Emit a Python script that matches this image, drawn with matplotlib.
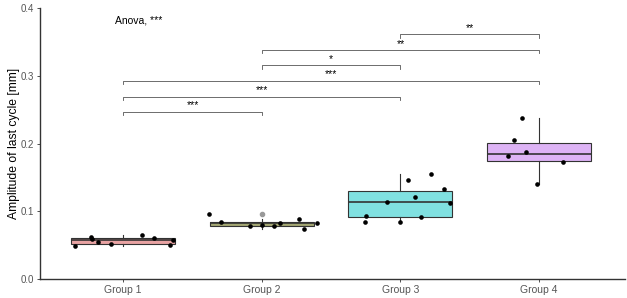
import matplotlib
matplotlib.use("Agg")
import matplotlib.pyplot as plt
import numpy as np

plt.rcParams['font.family'] = ['Liberation Sans', 'DejaVu Sans']

groups = ["Group 1", "Group 2", "Group 3", "Group 4"]
fill_colors = ["#E8A3A3", "#A3A672", "#80E0E0", "#DDB3F5"]

values = [
    [0.0487, 0.0615, 0.0586, 0.0546, 0.0521, 0.0650, 0.0605, 0.0497, 0.0571],
    [0.0955, 0.0846, 0.0778, 0.0802, 0.0782, 0.0827, 0.0886, 0.0743, 0.0827],
    [0.0925, 0.0846, 0.1137, 0.0841, 0.1461, 0.1206, 0.0915, 0.1555, 0.1324, 0.1126],
    [0.2380, 0.2047, 0.1820, 0.1870, 0.1723, 0.1407],
]
jitter = [
    [-0.344, -0.229, -0.227, -0.179, -0.088, 0.136, 0.224, 0.335, 0.356],
    [-0.380, -0.292, -0.084, 0.005, 0.086, 0.129, 0.270, 0.303, 0.399],
    [-0.248, -0.255, -0.100, 0.000, 0.057, 0.105, 0.150, 0.222, 0.317, 0.358],
    [-0.124, -0.184, -0.227, -0.091, 0.174, -0.014],
]

# comparisons: (group_a, group_b, y, label)
comp_a = [1, 1, 1, 2, 2, 3]
comp_b = [2, 3, 4, 3, 4, 4]
comp_y = [0.247, 0.269, 0.2925, 0.3155, 0.338, 0.361]
comp_lab = ["***", "***", "***", "*", "**", "**"]
anova_text = "Anova, ***"

fig = plt.figure(figsize=(6.27, 2.98), dpi=100)
ax = fig.add_axes([40/627, 19/298, 585/627, 271/298])

pos = np.arange(1, len(groups) + 1)
bp = ax.boxplot(values, positions=pos, widths=0.75, patch_artist=True,
                showcaps=False, whis=1.5, zorder=2,
                boxprops=dict(edgecolor="#333333", linewidth=0.8),
                whiskerprops=dict(color="#333333", linewidth=0.8),
                medianprops=dict(color="#333333", linewidth=1.2),
                flierprops=dict(marker='o', markerfacecolor="#999999",
                                markeredgecolor="#999999", markersize=3))
for patch, c in zip(bp['boxes'], fill_colors):
    patch.set_facecolor(c)

for i, (v, j) in enumerate(zip(values, jitter)):
    ax.scatter(np.array(j) + pos[i], v, s=11, color="black", zorder=3, linewidths=0)

tick_len = 0.005
for a, b, y, lab in zip(comp_a, comp_b, comp_y, comp_lab):
    ax.plot([a, a, b, b], [y - tick_len, y, y, y - tick_len], color="#555555",
            linewidth=0.6, zorder=1)
    ax.text((a + b) / 2, y + 0.002, lab, ha='center', va='bottom', fontsize=7.5,
            color="black")

ax.text(0.94, 0.381, anova_text, ha='left', va='center', fontsize=7.5, color="black")

ax.set_xlim(0.4, 4.62)
ax.set_ylim(0, 0.4)
ax.set_xticks(pos)
ax.set_xticklabels(groups)
ax.set_yticks([0.0, 0.1, 0.2, 0.3, 0.4])
ax.set_yticklabels(["0.0", "0.1", "0.2", "0.3", "0.4"])
ax.tick_params(axis='both', colors="#333333", labelcolor="#555555", labelsize=7.5,
               length=2.2, width=0.6, pad=2)
ax.tick_params(axis='y', labelsize=7)
ax.set_ylabel("Amplitude of last cycle [mm]", fontsize=8.7, color="black")
ax.yaxis.set_label_coords(-0.035, 0.5)
for s in ['top', 'right']:
    ax.spines[s].set_visible(False)
for s in ['left', 'bottom']:
    ax.spines[s].set_color("#333333")
    ax.spines[s].set_linewidth(1.0)

fig.savefig("out.png", dpi=100)
